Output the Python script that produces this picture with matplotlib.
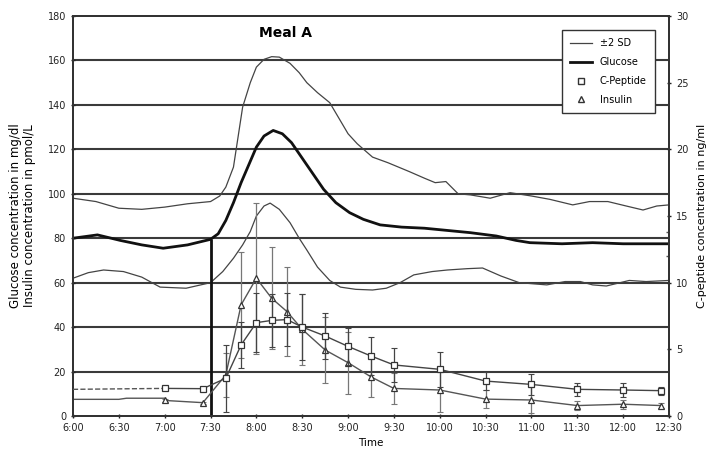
import matplotlib
matplotlib.use("Agg")
import matplotlib.pyplot as plt
from matplotlib.lines import Line2D

plt.rcParams['font.family'] = ['DejaVu Sans']

# ---- data (time in minutes after midnight) ----
tick_times = [360, 390, 420, 450, 480, 510, 540, 570, 600, 630, 660, 690, 720, 750]
tick_labels = ["6:00", "6:30", "7:00", "7:30", "8:00", "8:30", "9:00", "9:30",
               "10:00", "10:30", "11:00", "11:30", "12:00", "12:30"]

upper_t = [360, 375, 390, 405, 420, 435, 450, 456, 460, 465, 471, 476, 480, 485, 490,
           495, 502, 508, 513, 520, 528, 534, 540, 546, 556, 566, 580, 590, 597, 604,
           612, 620, 633, 646, 660, 672, 687, 698, 710, 722, 733, 742, 750]
upper_v = [98, 96.5, 93.5, 93, 94, 95.5, 96.5, 99, 103, 112, 139, 150, 157, 160.5, 161.7,
           161.5, 158.7, 154.5, 150, 145.5, 141, 134, 127, 122.5, 116.5, 114, 110, 107, 105, 105.5,
           100, 99.5, 98, 100.5, 99, 97.5, 95, 96.5, 96.5, 94.5, 92.7, 94.5, 95]

glucose_t = [360, 376, 391, 405, 419, 435, 450, 455, 460, 465, 470, 475, 480, 485, 491,
             497, 503, 510, 517, 524, 532, 541, 550, 561, 575, 590, 605, 620, 637, 650,
             659, 680, 700, 720, 750]
glucose_v = [80, 81.5, 79, 77, 75.5, 77, 79.5, 82, 88, 96, 105, 113, 121, 126, 128.5,
             127, 123, 116, 109, 102, 96, 91.5, 88.5, 86, 85, 84.5, 83.5, 82.5, 81, 79,
             78, 77.5, 78, 77.5, 77.5]

lower_t = [360, 370, 380, 393, 405, 417, 434, 450, 458, 465, 471, 476, 480, 485, 489,
           495, 502, 508, 513, 520, 528, 535, 545, 556, 565, 574, 583, 595, 605, 618,
           628, 640, 652, 670, 682, 692, 700, 709, 724, 735, 750]
lower_v = [62, 64.5, 65.7, 65, 62.5, 58, 57.5, 60, 65, 71, 77, 83, 90, 94.5, 95.8,
           93, 87, 80, 74.7, 67, 61, 58, 57, 56.7, 57.5, 60, 63.5, 65, 65.7, 66.3,
           66.6, 63, 60, 59, 60.5, 60.5, 59, 58.5, 61, 60.5, 61]

glucose_end_sd = 5.5

# insulin (pmol/L, left axis)
ins_base_t = [360, 390, 395, 420]
ins_base_v = [7.5, 7.5, 8, 8]
ins_t = [420, 445, 460, 470, 480, 490, 500, 510, 525, 540, 555, 570, 600, 630, 660, 690, 720, 745]
ins_v = [7, 6, 18.5, 50, 62, 53, 47, 39, 29.7, 24, 17.6, 12.4, 11.7, 7.6, 7.2, 4.7, 5.3, 4.7]
ins_sd = [0.5, 0.5, 10, 24, 34, 23, 20, 16, 15, 14, 9, 7, 10, 4, 6, 2, 2, 1]

# C-peptide (ng/ml, right axis)
cp_base_t = [360, 420]
cp_base_v = [2.0, 2.07]
cp_t = [420, 445, 460, 470, 480, 490, 500, 510, 525, 540, 555, 570, 600, 630, 660, 690, 720, 745]
cp_v = [2.07, 2.05, 2.83, 5.33, 7.0, 7.17, 7.23, 6.67, 6.0, 5.22, 4.5, 3.83, 3.5, 2.62,
        2.37, 2.0, 1.95, 1.9]
cp_sd = [0.1, 0.1, 2.5, 1.7, 2.2, 2.0, 2.0, 2.5, 1.7, 1.4, 1.4, 1.3, 1.3, 0.7, 0.8, 0.5, 0.5, 0.3]

meal_time = 450

# ---- figure ----
fig = plt.figure(figsize=(7.15, 4.54), dpi=100)
ax = fig.add_axes([73/715, 38/454, 596/715, 400/454])
ax2 = ax.twinx()

ax.set_xlim(360, 750)
ax.set_ylim(0, 180)
ax2.set_ylim(0, 30)

# horizontal grid lines
for y in range(20, 180, 20):
    ax.axhline(y, color='#3a3a3a', lw=1.5, zorder=1)

ax.plot(upper_t, upper_v, color='#444444', lw=0.9, zorder=3)
ax.plot(lower_t, lower_v, color='#444444', lw=0.9, zorder=3)
ax.plot(glucose_t, glucose_v, color='#111111', lw=2.0, zorder=4)
ax.errorbar([glucose_t[-1]], [glucose_v[-1]], yerr=[glucose_end_sd], fmt='none',
            ecolor='#555555', elinewidth=1.0, capsize=2, zorder=4)

# meal line
ax.vlines(meal_time, 0, 79.5, color='#111111', lw=2.0, zorder=5)

# insulin
ax.plot(ins_base_t, ins_base_v, color='#555555', lw=1.0, zorder=5)
ax.errorbar(ins_t, ins_v, yerr=ins_sd, fmt='none', ecolor='#777777',
            elinewidth=0.9, capsize=2, capthick=0.8, linestyle='--', zorder=5)
ax.plot(ins_t, ins_v, color='#555555', lw=1.0, marker='^', markersize=5,
        markerfacecolor='white', markeredgecolor='#333333', markeredgewidth=0.9, zorder=6)

# C-peptide on right axis
ax2.plot(cp_base_t, cp_base_v, color='#555555', lw=1.0, linestyle='--', zorder=5)
ax2.errorbar(cp_t, cp_v, yerr=cp_sd, fmt='none', ecolor='#444444',
             elinewidth=0.9, capsize=2, capthick=0.8, zorder=5)
ax2.plot(cp_t, cp_v, color='#444444', lw=1.0, marker='s', markersize=4.5,
         markerfacecolor='white', markeredgecolor='#333333', markeredgewidth=0.9, zorder=6)

# ticks
ax.set_xticks(tick_times)
ax.set_xticklabels(tick_labels)
ax.set_yticks(range(0, 181, 20))
ax2.set_yticks(range(0, 31, 5))
for a in (ax, ax2):
    a.tick_params(labelsize=7, length=3, width=1, direction='inout', colors='#222222')
    for s in a.spines.values():
        s.set_linewidth(1.4)
        s.set_color('#333333')

ax.set_xlabel("Time", fontsize=7.5, labelpad=4)
ax.set_ylabel("Glucose concentration in mg/dl\nInsulin concentration in pmol/L",
              fontsize=8.5, labelpad=8, linespacing=1.1)
ax2.set_ylabel("C-peptide concentration in ng/ml", fontsize=8, labelpad=6)

ax.text(0.356, 0.957, "Meal A", transform=ax.transAxes, fontsize=10,
        fontweight='bold', ha='center', va='center')

handles = [
    Line2D([], [], color='#444444', lw=0.9),
    Line2D([], [], color='#111111', lw=2.0),
    Line2D([], [], linestyle='none', marker='s', markersize=4.5,
           markerfacecolor='white', markeredgecolor='#333333'),
    Line2D([], [], linestyle='none', marker='^', markersize=5,
           markerfacecolor='white', markeredgecolor='#333333'),
]
labels = ["\u00b12 SD", "Glucose", "C-Peptide", "Insulin"]
leg = ax2.legend(handles, labels, loc='upper right', bbox_to_anchor=(0.985, 0.978),
                 fontsize=7, frameon=True, fancybox=False, edgecolor='#333333',
                 framealpha=1, handlelength=2.2, borderpad=0.9, labelspacing=0.9)
leg.get_frame().set_linewidth(1.0)
leg.set_zorder(10)

fig.savefig("out.png", dpi=100)
